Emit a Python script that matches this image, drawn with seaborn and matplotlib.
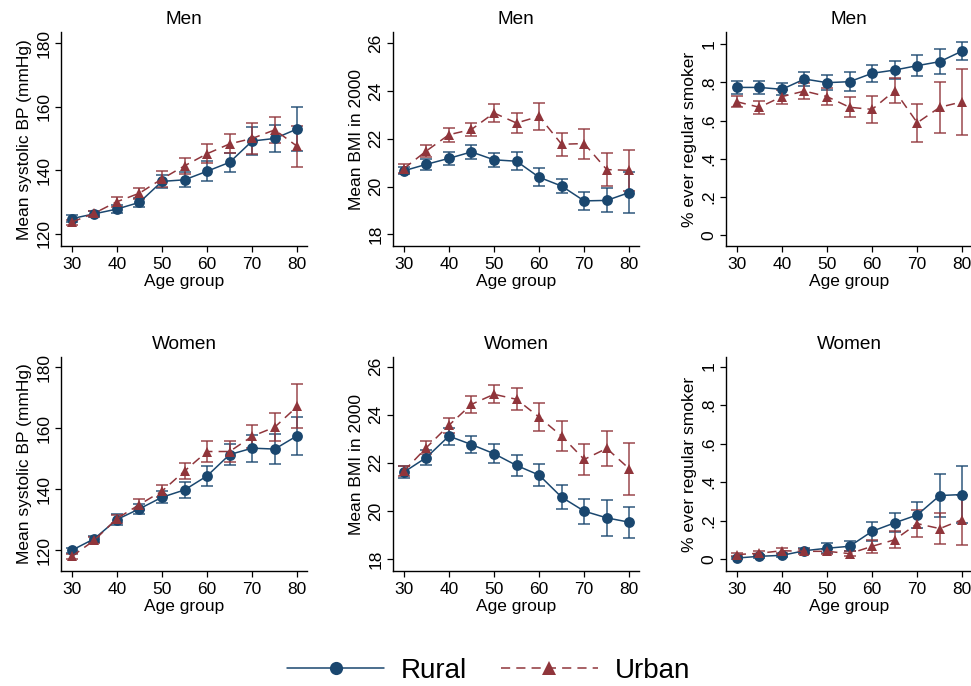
import numpy as np
import pandas as pd
import seaborn as sns
import matplotlib
matplotlib.use("Agg")
import matplotlib.pyplot as plt
from matplotlib.lines import Line2D

ages = [30, 35, 40, 45, 50, 55, 60, 65, 70, 75, 80]
groups = ["Rural", "Urban"]

men_bp_rural = [124.8, 126.3, 127.8, 129.9, 136.5, 137.0, 139.7, 142.5, 149.2, 150.0, 153.0]
men_bp_rural_err = [1.0, 1.0, 1.2, 1.5, 2.0, 2.3, 3.2, 3.0, 4.4, 4.3, 7.0]
men_bp_urban = [123.7, 126.5, 130.1, 132.8, 137.3, 141.4, 145.2, 148.3, 150.0, 152.7, 147.5]
men_bp_urban_err = [0.8, 0.8, 1.5, 1.7, 2.5, 2.5, 3.0, 3.0, 5.0, 4.2, 6.5]

men_bmi_rural = [20.66, 20.93, 21.18, 21.45, 21.12, 21.06, 20.39, 20.02, 19.40, 19.42, 19.75]
men_bmi_rural_err = [0.14, 0.23, 0.26, 0.28, 0.29, 0.38, 0.38, 0.29, 0.39, 0.50, 0.85]
men_bmi_urban = [20.75, 21.49, 22.17, 22.39, 23.08, 22.66, 22.94, 21.77, 21.80, 20.71, 20.68]
men_bmi_urban_err = [0.20, 0.26, 0.29, 0.29, 0.38, 0.40, 0.56, 0.48, 0.63, 0.68, 0.85]

men_smk_rural = [0.774, 0.774, 0.764, 0.818, 0.799, 0.804, 0.848, 0.865, 0.888, 0.909, 0.965]
men_smk_rural_err = [0.032, 0.033, 0.032, 0.035, 0.040, 0.049, 0.046, 0.045, 0.056, 0.066, 0.045]
men_smk_urban = [0.699, 0.670, 0.726, 0.755, 0.726, 0.670, 0.659, 0.757, 0.589, 0.670, 0.699]
men_smk_urban_err = [0.030, 0.035, 0.037, 0.040, 0.046, 0.053, 0.071, 0.065, 0.100, 0.135, 0.174]

women_bp_rural = [120.0, 123.8, 130.1, 133.6, 137.4, 139.8, 144.4, 151.4, 153.5, 153.2, 157.6]
women_bp_rural_err = [0.8, 1.0, 1.7, 1.7, 2.0, 2.5, 3.2, 3.5, 4.4, 5.0, 6.2]
women_bp_urban = [118.0, 123.3, 130.4, 135.0, 139.4, 146.0, 152.4, 152.4, 157.4, 160.4, 167.2]
women_bp_urban_err = [0.8, 0.9, 1.3, 1.7, 2.0, 2.7, 3.4, 3.6, 3.7, 4.6, 7.2]

women_bmi_rural = [21.61, 22.22, 23.11, 22.76, 22.38, 21.89, 21.49, 20.57, 19.99, 19.71, 19.53]
women_bmi_rural_err = [0.24, 0.33, 0.35, 0.36, 0.40, 0.42, 0.45, 0.50, 0.52, 0.76, 0.65]
women_bmi_urban = [21.65, 22.63, 23.56, 24.43, 24.85, 24.64, 23.90, 23.11, 22.14, 22.60, 21.75]
women_bmi_urban_err = [0.20, 0.26, 0.30, 0.35, 0.38, 0.46, 0.59, 0.62, 0.65, 0.73, 1.07]

women_smk_rural = [0.005, 0.014, 0.019, 0.043, 0.056, 0.066, 0.144, 0.188, 0.229, 0.330, 0.335]
women_smk_rural_err = [0.005, 0.007, 0.008, 0.012, 0.025, 0.027, 0.050, 0.050, 0.068, 0.114, 0.150]
women_smk_urban = [0.023, 0.030, 0.043, 0.040, 0.040, 0.028, 0.066, 0.100, 0.184, 0.158, 0.205]
women_smk_urban_err = [0.008, 0.010, 0.012, 0.012, 0.014, 0.014, 0.035, 0.043, 0.070, 0.080, 0.130]

bp_ticks = [120, 140, 160, 180]
bmi_ticks = [18, 20, 22, 24, 26]
smk_ticks = [0, 0.2, 0.4, 0.6, 0.8, 1.0]
smk_ticklabels = ["0", ".2", ".4", ".6", ".8", "1"]
x_ticks = [30, 40, 50, 60, 70, 80]

sns.set_theme(style="ticks")
plt.rcParams["font.family"] = ["Liberation Sans", "DejaVu Sans"]
plt.rcParams["text.color"] = "black"
plt.rcParams["axes.labelcolor"] = "black"
plt.rcParams["xtick.color"] = "black"
plt.rcParams["ytick.color"] = "black"

colors = {"Rural": "#1a476f", "Urban": "#90353b"}
markers = {"Rural": "o", "Urban": "^"}
dashes = {"Rural": "", "Urban": (6, 4)}

fig = plt.figure(figsize=(9.71, 6.86), dpi=100)

W = 0.2536
H = 0.312
lefts = [0.0628, 0.4047, 0.7477]
bottoms = [0.641, 0.1676]

panels = [
    ("Men", men_bp_rural, men_bp_rural_err, men_bp_urban, men_bp_urban_err,
     "Mean systolic BP (mmHg)", (116.1, 183.4), bp_ticks, None),
    ("Men", men_bmi_rural, men_bmi_rural_err, men_bmi_urban, men_bmi_urban_err,
     "Mean BMI in 2000", (17.5, 26.46), bmi_ticks, None),
    ("Men", men_smk_rural, men_smk_rural_err, men_smk_urban, men_smk_urban_err,
     "% ever regular smoker", (-0.058, 1.063), smk_ticks, smk_ticklabels),
    ("Women", women_bp_rural, women_bp_rural_err, women_bp_urban, women_bp_urban_err,
     "Mean systolic BP (mmHg)", (113.2, 183.4), bp_ticks, None),
    ("Women", women_bmi_rural, women_bmi_rural_err, women_bmi_urban, women_bmi_urban_err,
     "Mean BMI in 2000", (17.5, 26.4), bmi_ticks, None),
    ("Women", women_smk_rural, women_smk_rural_err, women_smk_urban, women_smk_urban_err,
     "% ever regular smoker", (-0.0625, 1.05), smk_ticks, smk_ticklabels),
]

fs = 12.5
for i, (title, r, re, u, ue, ylabel, ylim, yticks, yticklabels) in enumerate(panels):
    row, col = divmod(i, 3)
    ax = fig.add_axes([lefts[col], bottoms[row], W, H])
    df = pd.DataFrame({
        "age": ages + ages,
        "value": r + u,
        "err": re + ue,
        "group": ["Rural"] * len(ages) + ["Urban"] * len(ages),
    })
    for g in groups:
        sub = df[df["group"] == g]
        ax.errorbar(sub["age"], sub["value"], yerr=sub["err"], fmt="none",
                    ecolor=colors[g], elinewidth=1.1, capsize=4.0, capthick=1.1,
                    zorder=2, alpha=0.9)
    sns.lineplot(data=df, x="age", y="value", hue="group", style="group",
                 palette=colors, markers=markers, dashes=dashes, ax=ax,
                 markersize=7.8, markeredgewidth=0, linewidth=1.1,
                 legend=False, zorder=3, errorbar=None)
    ax.set_xlim(27.6, 82.2)
    ax.set_ylim(*ylim)
    ax.set_xticks(x_ticks)
    ax.set_yticks(yticks)
    if yticklabels is not None:
        ax.set_yticklabels(yticklabels)
    for lab in ax.get_yticklabels():
        lab.set_rotation(90)
        lab.set_va("center")
    ax.set_title(title, fontsize=13.7, pad=6, color="black")
    ax.set_xlabel("Age group", fontsize=fs, labelpad=1)
    ax.set_ylabel(ylabel, fontsize=fs, labelpad=3)
    ax.tick_params(axis="both", labelsize=fs, length=4, width=0.9, color="black",
                   labelcolor="black", direction="out")
    ax.tick_params(axis="x", pad=4)
    ax.tick_params(axis="y", pad=3)
    sns.despine(ax=ax)
    for s in ["left", "bottom"]:
        ax.spines[s].set_linewidth(1.0)
        ax.spines[s].set_color("black")
    ax.set_facecolor("white")

handles = [
    Line2D([], [], color=colors["Rural"], marker="o", markersize=9.5,
           markeredgewidth=0, linewidth=1.1, linestyle="-"),
    Line2D([], [], color=colors["Urban"], marker="^", markersize=9.5,
           markeredgewidth=0, linewidth=1.1, linestyle=(0, (6, 4))),
]
fig.legend(handles, groups, loc="center", bbox_to_anchor=(0.503, 0.022),
           ncol=2, frameon=False, fontsize=20, handlelength=3.5,
           handletextpad=0.6, columnspacing=1.2, numpoints=1,
           labelcolor="black")

fig.savefig("out.png", dpi=100, facecolor="white")
